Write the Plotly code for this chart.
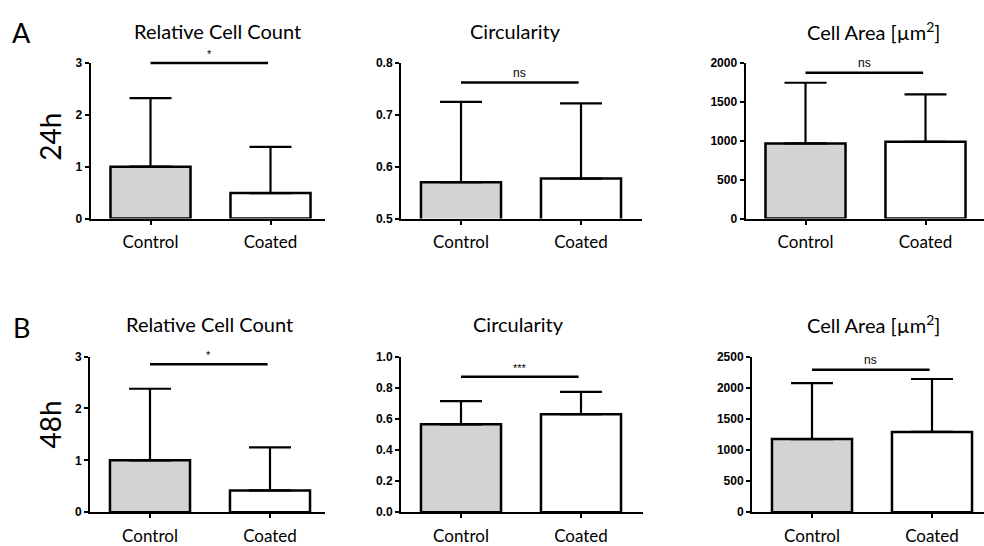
import plotly.graph_objects as go

W, H = 984, 546

groups = ["Control", "Coated"]
bar_colors = ["#d3d3d3", "#ffffff"]

# 24h
rcc24_mean = [1.00, 0.49]
rcc24_sd = [1.32, 0.89]
circ24_mean = [0.570, 0.577]
circ24_sd = [0.155, 0.145]
area24_mean = [965, 985]
area24_sd = [780, 610]
# 48h
rcc48_mean = [1.00, 0.42]
rcc48_sd = [1.38, 0.83]
circ48_mean = [0.565, 0.630]
circ48_sd = [0.149, 0.143]
area48_mean = [1175, 1290]
area48_sd = [900, 850]

titles = ["Relative Cell Count", "Circularity", "Cell Area [µm<sup>2</sup>]"]
sig_labels_24 = ["*", "ns", "ns"]
sig_heights_24 = [3.0, 0.762, 1872]
sig_labels_48 = ["*", "***", "ns"]
sig_heights_48 = [2.85, 0.87, 2290]

y_ranges_24 = [[0, 3], [0.5, 0.8], [0, 2000]]
y_dticks_24 = [1, 0.1, 500]
y_ranges_48 = [[0, 3], [0, 1.0], [0, 2500]]
y_dticks_48 = [1, 0.2, 500]
y_formats = ["d", ".1f", "d"]

panels = [
    (rcc24_mean, rcc24_sd, (90.5, 325), y_ranges_24[0], y_dticks_24[0], y_formats[0], sig_heights_24[0], sig_labels_24[0], 0),
    (circ24_mean, circ24_sd, (401, 642), y_ranges_24[1], y_dticks_24[1], y_formats[1], sig_heights_24[1], sig_labels_24[1], 0),
    (area24_mean, area24_sd, (745.5, 984), y_ranges_24[2], y_dticks_24[2], y_formats[2], sig_heights_24[2], sig_labels_24[2], 0),
    (rcc48_mean, rcc48_sd, (90, 325), y_ranges_48[0], y_dticks_48[0], y_formats[0], sig_heights_48[0], sig_labels_48[0], 1),
    (circ48_mean, circ48_sd, (401, 643), y_ranges_48[1], y_dticks_48[1], y_formats[1], sig_heights_48[1], sig_labels_48[1], 1),
    (area48_mean, area48_sd, (752, 984), y_ranges_48[2], y_dticks_48[2], y_formats[2], sig_heights_48[2], sig_labels_48[2], 1),
]

row_px = [(57.7, 218.3), (360.8, 521.5)]
PX_PER_UNIT = 120.0

fig = go.Figure()
layout = dict(
    width=W, height=H,
    margin=dict(l=0, r=0, t=0, b=0),
    paper_bgcolor="white", plot_bgcolor="white",
    showlegend=False,
)
annotations = []
shapes = []

tick_font = dict(family="Liberation Sans, Arial", size=12, color="black", weight="bold")
cat_font = dict(family="Lato", size=17, color="black")

for i, (means, sds, (x0, x1), yr, dt, fmt, sh, sl, row) in enumerate(panels):
    k = "" if i == 0 else str(i + 1)
    xa, ya = "x" + k, "y" + k
    top, bot = row_px[row]
    xr = [-0.5, (x1 - x0) / PX_PER_UNIT - 0.5]
    xdom = [x0 / W, x1 / W]
    ydom = [1 - bot / H, 1 - top / H]
    fig.add_trace(go.Bar(
        x=[0, 1], y=means, width=0.667,
        marker=dict(color=bar_colors, line=dict(color="black", width=2.5)),
        error_y=dict(type="data", symmetric=False, array=sds, arrayminus=[0, 0],
                     color="black", thickness=2.2, width=21),
        xaxis=xa, yaxis=ya,
    ))
    layout["xaxis" + k] = dict(
        domain=xdom, range=xr, anchor=ya,
        tickmode="array", tickvals=[0, 1], ticktext=groups,
        ticks="outside", ticklen=4, tickwidth=1.8, tickcolor="black",
        showline=True, linecolor="black", linewidth=2,
        showgrid=False, zeroline=False, tickfont=cat_font,
        ticklabelstandoff=3, fixedrange=True,
    )
    layout["yaxis" + k] = dict(
        domain=ydom, range=yr, anchor=xa,
        dtick=dt, tick0=yr[0], tickformat=fmt,
        ticks="outside", ticklen=4, tickwidth=1.8, tickcolor="black",
        showline=True, linecolor="black", linewidth=2,
        showgrid=False, zeroline=False, tickfont=tick_font,
        ticklabelstandoff=0, fixedrange=True,
    )
    # significance bar in paper coords (converted from data values, avoids clipping)
    def px_(v):
        return xdom[0] + (v - xr[0]) / (xr[1] - xr[0]) * (xdom[1] - xdom[0])
    def py_(v):
        return ydom[0] + (v - yr[0]) / (yr[1] - yr[0]) * (ydom[1] - ydom[0])
    shapes.append(dict(type="line", xref="paper", yref="paper",
                       x0=px_(0.0), x1=px_(0.98), y0=py_(sh), y1=py_(sh),
                       line=dict(color="black", width=2.5)))
    annotations.append(dict(xref=xa, yref=ya, x=0.49, y=sh, text=sl, showarrow=False,
                            yanchor="bottom", yshift=1,
                            font=dict(family="Liberation Sans, Arial", size=12 if sl == "ns" else 11, color="black")))

title_pos = [(217, 25), (515, 25), (873, 25), (209, 327), (518, 327), (873, 327)]
for j, (tx, ty) in enumerate(title_pos):
    annotations.append(dict(xref="paper", yref="paper", x=tx / W, y=1 - ty / H,
                            text=titles[j % 3], showarrow=False, xanchor="center", yanchor="middle",
                            font=dict(family="Lato", size=20, color="black")))

for letter, (lx, ly) in [("A", (21, 26)), ("B", (21, 331))]:
    annotations.append(dict(xref="paper", yref="paper", x=lx / W, y=1 - ly / H, text=letter,
                            showarrow=False, xanchor="center", yanchor="middle",
                            font=dict(family="Lato", size=27, color="black")))

for lab, (lx, ly) in [("24h", (50, 134)), ("48h", (50, 431))]:
    annotations.append(dict(xref="paper", yref="paper", x=lx / W, y=1 - ly / H, text=lab,
                            showarrow=False, xanchor="center", yanchor="middle", textangle=-90,
                            font=dict(family="Lato", size=28, color="black")))

layout["annotations"] = annotations
layout["shapes"] = shapes
fig.update_layout(**layout)
fig.write_html("out.html")
